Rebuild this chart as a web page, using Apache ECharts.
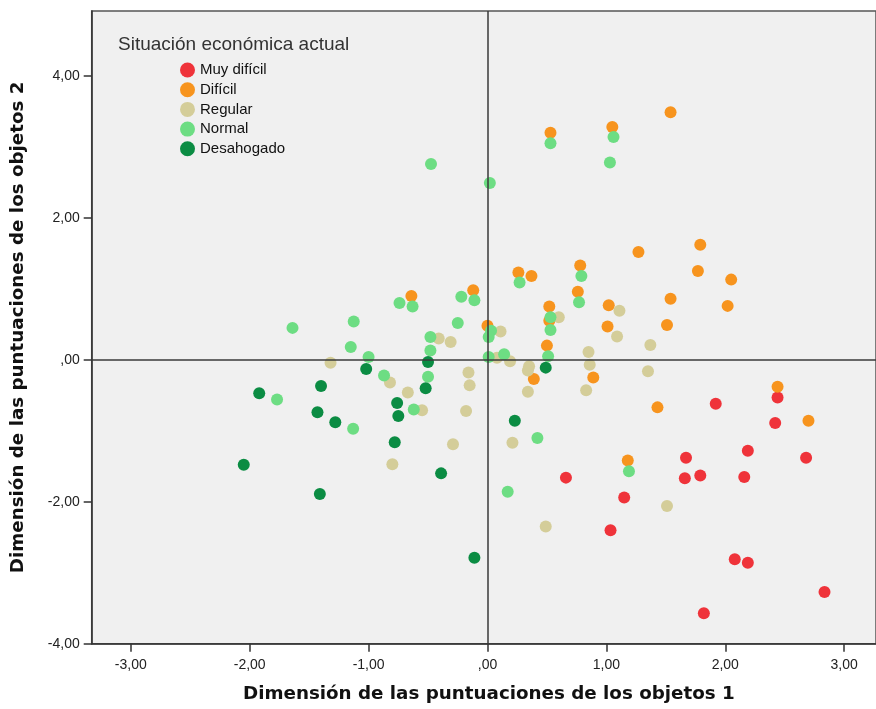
<!DOCTYPE html>
<html>
<head>
<meta charset="utf-8">
<script src="https://cdn.jsdelivr.net/npm/echarts@6/dist/echarts.min.js"></script>
<style>html,body{margin:0;padding:0;background:#fff;}#c{width:876px;height:709px;}</style>
</head>
<body>
<div id="c"></div>
<script>
// Category names
const categories = ['Muy difícil', 'Difícil', 'Regular', 'Normal', 'Desahogado'];

// Points [dim1, dim2] per category
const muyDificil = [
  [1.92,-0.62],[2.44,-0.53],[2.42,-0.89],[2.19,-1.28],[1.67,-1.38],[2.68,-1.38],
  [1.66,-1.67],[1.79,-1.63],[2.16,-1.65],[1.15,-1.94],[2.08,-2.81],[2.19,-2.86],
  [2.835,-3.27],[1.82,-3.57],[0.66,-1.66],[1.035,-2.40]
];
const dificil = [
  [0.53,3.20],[1.05,3.28],[1.54,3.49],[1.27,1.52],[1.79,1.62],[1.77,1.25],
  [2.05,1.13],[2.02,0.76],[0.26,1.23],[0.37,1.18],[0.78,1.33],[0.76,0.96],
  [-0.12,0.98],[-0.64,0.90],[1.54,0.86],[1.51,0.49],[1.02,0.77],[1.01,0.47],
  [0.52,0.75],[0.52,0.55],[0.00,0.48],[0.50,0.20],[0.39,-0.27],[0.89,-0.25],
  [1.43,-0.67],[2.44,-0.38],[2.70,-0.86],[1.18,-1.42]
];
const regular = [
  [-1.32,-0.04],[-0.82,-0.32],[-0.67,-0.46],[-0.55,-0.71],[-0.41,0.30],[-0.31,0.25],
  [-0.16,-0.18],[-0.15,-0.36],[-0.18,-0.72],[-0.29,-1.19],[-0.80,-1.47],[0.11,0.40],
  [0.08,0.03],[0.19,-0.02],[0.60,0.60],[0.35,-0.09],[0.34,-0.15],[0.34,-0.45],
  [0.21,-1.17],[0.85,0.11],[0.86,-0.07],[0.83,-0.43],[1.11,0.69],[1.09,0.33],
  [1.37,0.21],[1.35,-0.16],[1.51,-2.06],[0.49,-2.35]
];
const normal = [
  [-0.475,2.76],[0.02,2.49],[0.53,3.05],[1.06,3.14],[1.03,2.78],[0.27,1.09],
  [0.79,1.18],[-0.22,0.89],[-0.11,0.84],[-0.74,0.80],[-0.63,0.75],[-0.25,0.52],
  [-0.48,0.32],[-0.48,0.13],[-0.50,-0.24],[-0.87,-0.22],[-0.62,-0.70],[0.03,0.41],
  [0.01,0.32],[0.01,0.04],[0.14,0.08],[0.53,0.60],[0.53,0.42],[0.51,0.05],
  [0.77,0.81],[0.42,-1.10],[0.17,-1.86],[1.19,-1.57],[-1.125,0.54],[-1.15,0.18],
  [-1.00,0.04],[-1.64,0.45],[-1.77,-0.56],[-1.13,-0.97]
];
const desahogado = [
  [-1.02,-0.13],[-1.40,-0.37],[-1.92,-0.47],[-1.43,-0.74],[-1.28,-0.88],[-2.05,-1.48],
  [-1.41,-1.89],[-0.50,-0.03],[-0.52,-0.40],[-0.76,-0.61],[-0.75,-0.79],[-0.78,-1.16],
  [-0.39,-1.60],[0.23,-0.86],[0.49,-0.11],[-0.11,-2.79]
];

// Tick values
const xTicks = [-3, -2, -1, 0, 1, 2, 3];
const yTicks = [-4, -2, 0, 2, 4];

const colors = ['#ef333a', '#f7941e', '#d4cd99', '#6ddd83', '#0b8c43'];
const seriesData = [muyDificil, dificil, regular, normal, desahogado];

function fmt(v) {
  if (Math.abs(v) < 1e-9) return ',00';
  return v.toFixed(2).replace('.', ',');
}

const chart = echarts.init(document.getElementById('c'), null, {renderer: 'canvas'});
const font = 'Liberation Sans, Arial, sans-serif';

const series = categories.map((name, i) => ({
  name: name,
  type: 'scatter',
  data: seriesData[i],
  symbol: 'circle',
  symbolSize: 12,
  itemStyle: {color: colors[i], opacity: 1},
  z: 2
}));
series.push({
  name: 'ref',
  type: 'scatter',
  data: [],
  z: 5,
  markLine: {
    silent: true,
    symbol: ['none', 'none'],
    label: {show: false},
    lineStyle: {color: '#3a3a3a', width: 1.5, type: 'solid'},
    data: [{xAxis: 0}, {yAxis: 0}]
  }
});

chart.setOption({
  animation: false,
  backgroundColor: '#ffffff',
  title: {
    text: 'Situación económica actual',
    left: 113,
    top: 30,
    textStyle: {fontFamily: font, fontSize: 19, fontWeight: 'normal', color: '#333'}
  },
  legend: {
    data: categories,
    orient: 'vertical',
    left: 180,
    top: 62.5,
    icon: 'circle',
    itemWidth: 15,
    itemHeight: 15,
    itemGap: 4.7,
    itemTextGap: 3,
    padding: 0,
    textStyle: {fontFamily: font, fontSize: 15, color: '#111'}
  },
  grid: {
    left: 91.7,
    top: 11,
    right: -3,
    bottom: 65.3,
    show: true,
    backgroundColor: '#f0f0f0',
    borderColor: '#555',
    borderWidth: 1.5
  },
  xAxis: {
    type: 'value',
    min: -3.329,
    max: 3.268,
    name: 'Dimensión de las puntuaciones de los objetos 1',
    nameLocation: 'middle',
    nameGap: 42,
    nameTextStyle: {fontFamily: 'DejaVu Sans', fontSize: 18.3, fontWeight: 'bold', color: '#111', padding: [0, 0, 0, 10]},
    axisLine: {show: true, onZero: false, lineStyle: {color: '#333', width: 1.5}},
    axisTick: {show: true, length: 8, customValues: xTicks, lineStyle: {color: '#333', width: 1.5}},
    axisLabel: {customValues: xTicks, formatter: fmt, margin: 14, fontFamily: font, fontSize: 14, color: '#222'},
    splitLine: {show: false}
  },
  yAxis: {
    type: 'value',
    min: -4,
    max: 4.915,
    name: 'Dimensión de las puntuaciones de los objetos 2',
    nameLocation: 'middle',
    nameGap: 64,
    nameTextStyle: {fontFamily: 'DejaVu Sans', fontSize: 18.3, fontWeight: 'bold', color: '#111'},
    axisLine: {show: true, onZero: false, lineStyle: {color: '#333', width: 1.5}},
    axisTick: {show: true, length: 8, customValues: yTicks, lineStyle: {color: '#333', width: 1.5}},
    axisLabel: {customValues: yTicks, formatter: fmt, margin: 12, fontFamily: font, fontSize: 14, color: '#222'},
    splitLine: {show: false}
  },
  series: series
});
</script>
</body>
</html>
